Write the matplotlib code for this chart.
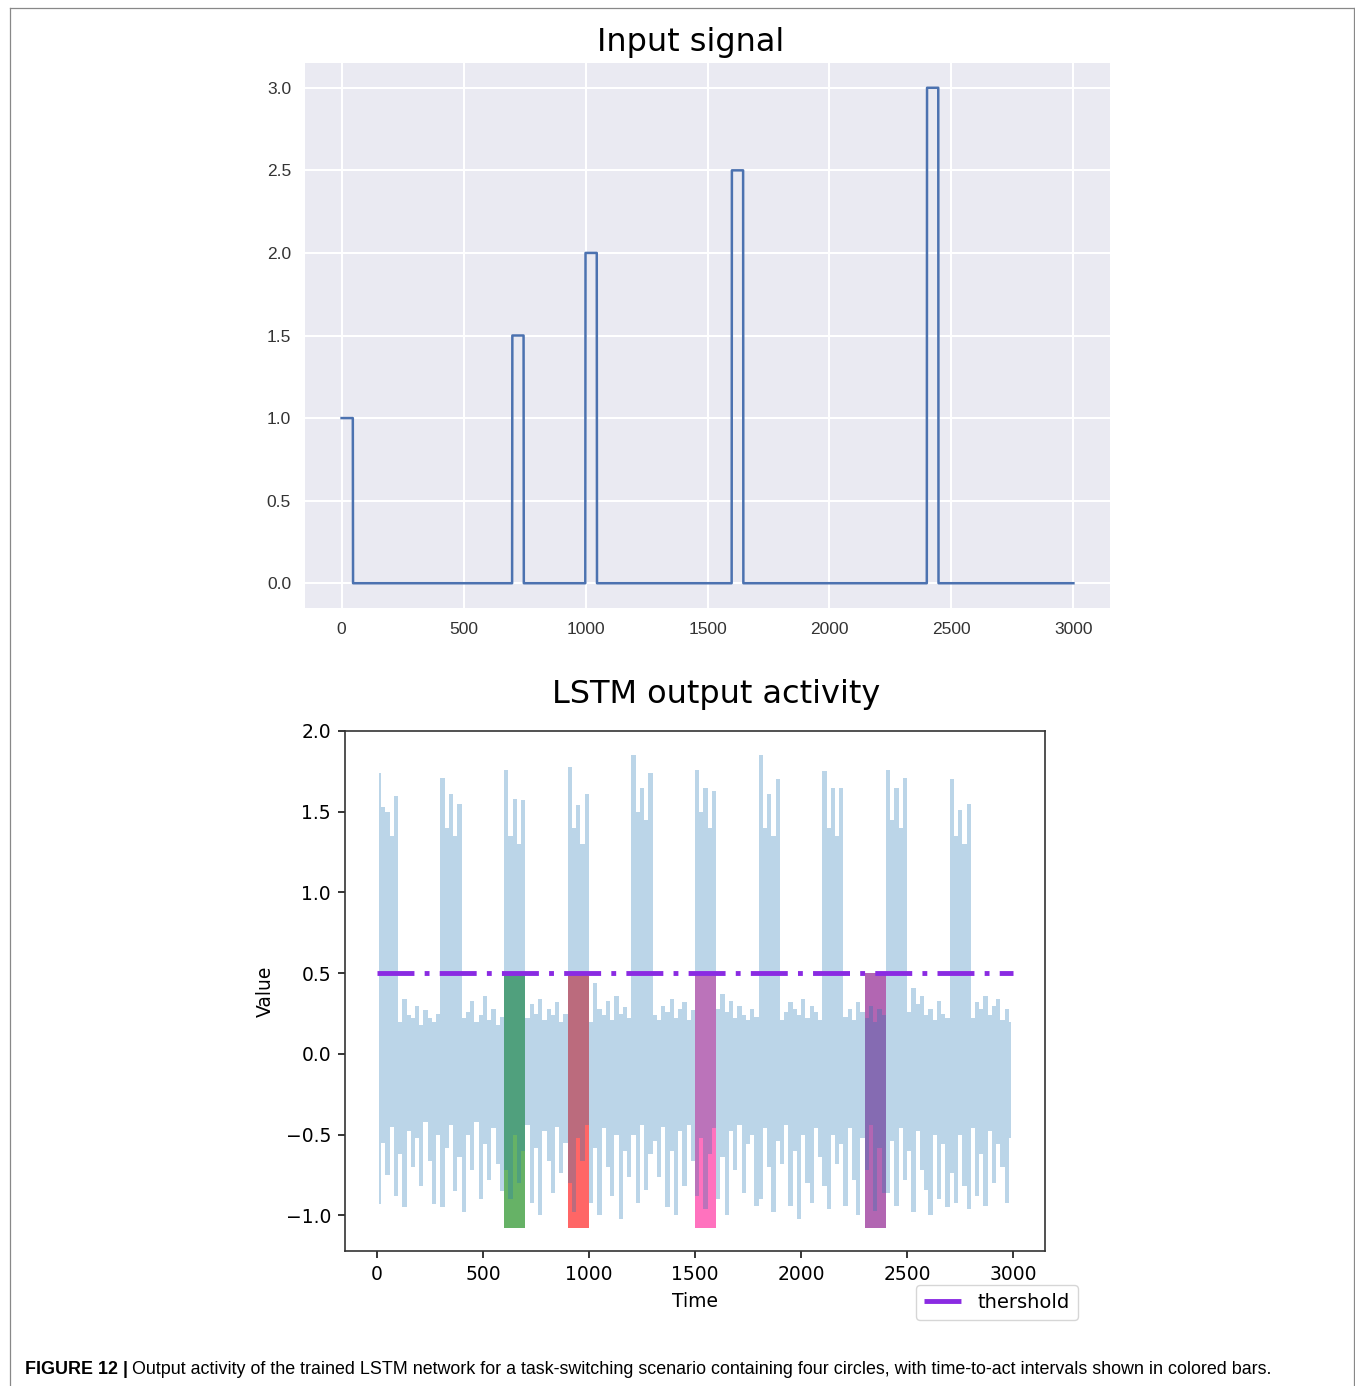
import numpy as np
import matplotlib.pyplot as plt
from matplotlib.lines import Line2D

# input signal: pulse onsets, levels
pulse_start = [0, 700, 1000, 1600, 2400]
pulse_level = [1.0, 1.5, 2.0, 2.5, 3.0]
pulse_len = 47
t_end = 3000

# LSTM output, upper / lower envelope read per 20-step bin (one row = 300 steps)
bin_step = 20
out_hi = [
    1.74, 1.53, 1.50, 1.35, 1.60, 0.20, 0.34, 0.24, 0.22, 0.30, 0.18, 0.27, 0.22, 0.20, 0.25,
    1.71, 1.40, 1.61, 1.35, 1.55, 0.22, 0.26, 0.33, 0.20, 0.24, 0.36, 0.21, 0.28, 0.18, 0.23,
    1.76, 1.35, 1.58, 1.30, 1.57, 0.22, 0.31, 0.25, 0.34, 0.21, 0.28, 0.24, 0.32, 0.20, 0.25,
    1.78, 1.40, 1.54, 1.30, 1.61, 0.20, 0.44, 0.28, 0.24, 0.33, 0.21, 0.36, 0.25, 0.29, 0.22,
    1.85, 1.50, 1.65, 1.45, 1.74, 0.24, 0.21, 0.30, 0.26, 0.34, 0.22, 0.28, 0.32, 0.21, 0.27,
    1.76, 1.50, 1.65, 1.40, 1.63, 0.28, 0.37, 0.26, 0.33, 0.22, 0.30, 0.24, 0.21, 0.28, 0.23,
    1.85, 1.40, 1.61, 1.35, 1.70, 0.21, 0.26, 0.32, 0.28, 0.24, 0.34, 0.22, 0.30, 0.26, 0.21,
    1.75, 1.40, 1.65, 1.35, 1.65, 0.23, 0.28, 0.21, 0.32, 0.26, 0.22, 0.30, 0.20, 0.28, 0.24,
    1.76, 1.45, 1.65, 1.40, 1.71, 0.26, 0.41, 0.31, 0.36, 0.24, 0.28, 0.21, 0.33, 0.25, 0.22,
    1.70, 1.35, 1.51, 1.30, 1.55, 0.22, 0.32, 0.28, 0.36, 0.24, 0.30, 0.34, 0.21, 0.28, 0.20,
]
out_lo = [
    -0.93, -0.55, -0.75, -0.45, -0.88, -0.62, -0.95, -0.48, -0.70, -0.52, -0.82, -0.42, -0.66, -0.93, -0.50,
    -0.95, -0.58, -0.44, -0.85, -0.64, -0.98, -0.50, -0.72, -0.42, -0.90, -0.56, -0.78, -0.46, -0.68, -0.85,
    -0.72, -0.90, -0.50, -0.80, -0.60, -0.44, -0.92, -0.58, -1.00, -0.48, -0.66, -0.86, -0.45, -0.74, -0.55,
    -0.80, -0.98, -0.52, -0.66, -0.44, -0.92, -0.58, -1.00, -0.46, -0.70, -0.88, -0.50, -1.02, -0.60, -0.76,
    -0.50, -0.92, -0.44, -0.84, -0.62, -0.54, -0.76, -0.45, -0.95, -0.60, -1.00, -0.48, -0.82, -0.44, -0.66,
    -0.88, -0.52, -0.96, -0.62, -0.46, -0.90, -0.64, -1.00, -0.48, -0.72, -0.44, -0.86, -0.56, -0.50, -0.94,
    -0.90, -0.46, -0.70, -0.98, -0.54, -0.68, -0.44, -0.94, -0.60, -1.02, -0.50, -0.80, -0.92, -0.46, -0.64,
    -0.82, -0.96, -0.50, -0.68, -0.56, -0.94, -0.46, -0.78, -1.00, -0.52, -0.72, -0.44, -0.97, -0.58, -0.86,
    -0.86, -0.54, -0.94, -0.46, -0.78, -0.60, -0.98, -0.48, -0.72, -0.84, -1.00, -0.50, -0.90, -0.56, -0.95,
    -0.74, -0.92, -0.50, -0.82, -0.96, -0.46, -0.88, -0.62, -0.94, -0.48, -0.80, -0.56, -0.70, -0.92, -0.52,
]

threshold = 0.5
bar_start = [600, 900, 1500, 2300]
bar_len = 100
bar_bottom = -1.08
bar_colors = ['green', 'red', 'deeppink', 'purple']

fig = plt.figure(figsize=(13.55, 13.86), dpi=100)
W, H = 1355.0, 1386.0

# ---- top: input signal (seaborn darkgrid look)
ax1 = fig.add_axes([305 / W, 1 - 608 / H, 805 / W, 545 / H])
ax1.set_facecolor('#eaeaf2')
for sp in ax1.spines.values():
    sp.set_visible(False)
ax1.grid(True, color='white', lw=1.5)
ax1.set_axisbelow(True)
t_in = np.arange(t_end + 1)
sig_in = np.zeros(t_end + 1)
for s, v in zip(pulse_start, pulse_level):
    sig_in[s:s + pulse_len] = v
ax1.plot(t_in, sig_in, color='#4c72b0', lw=1.8)
ax1.set_xlim(-150, 3150)
ax1.set_ylim(-0.15, 3.15)
ax1.set_xticks(np.arange(0, 3001, 500))
ax1.set_yticks(np.arange(0, 3.01, 0.5))
ax1.tick_params(length=0, labelsize=12.5, labelcolor='#333333', pad=10)
for lab in ax1.get_xticklabels() + ax1.get_yticklabels():
    lab.set_family('Liberation Sans')
fig.text(691 / W, 1 - 42 / H, 'Input signal', ha='center', va='center', fontsize=23)

# ---- bottom: LSTM output
ax2 = fig.add_axes([345 / W, 1 - 1251 / H, 700 / W, 520 / H])
for s, c in zip(bar_start, bar_colors):
    ax2.bar(s, threshold - bar_bottom, bottom=bar_bottom, width=bar_len, align='edge',
            color=c, alpha=0.6, lw=0)
t_out = np.arange(len(out_hi)) * bin_step + bin_step / 2
ax2.fill_between(t_out, out_lo, out_hi, step='mid', color='C0', alpha=0.3, lw=0)
ax2.plot([0, t_end], [threshold, threshold], color='#8a2be2', lw=3.5,
         dashes=(7.6, 2.1, 1.0, 2.1), label='thershold')
ax2.set_xlim(-150, 3150)
ax2.set_ylim(-1.22, 2.0)
ax2.set_xticks(np.arange(0, 3001, 500))
ax2.set_yticks(np.arange(-1.0, 2.01, 0.5))
ax2.tick_params(labelsize=13.5, width=1.1, length=5, pad=5)
for sp in ax2.spines.values():
    sp.set_linewidth(1.2)
    sp.set_color('#333333')
ax2.set_xlabel('Time', fontsize=13.5, labelpad=6)
ax2.set_ylabel('Value', fontsize=13.5, labelpad=8)
ax2.legend(loc='lower right', bbox_to_anchor=(1078 / W, 1 - 1320 / H),
           bbox_transform=fig.transFigure, fontsize=14, framealpha=0.8,
           borderaxespad=0, fancybox=True)
fig.text(716 / W, 1 - 695 / H, 'LSTM output activity', ha='center', va='center', fontsize=23)

# ---- frame and caption
for xs, ys in [([10, 10], [8, H]), ([10, 1354], [8, 8]), ([1354, 1354], [8, H])]:
    fig.add_artist(Line2D([x / W for x in xs], [1 - y / H for y in ys],
                          transform=fig.transFigure, color='#888888', lw=0.9))
cy = 1 - 1370 / H
t1 = fig.text(25 / W, cy, 'FIGURE 12 |', fontsize=12.9, weight='bold',
              family='Liberation Sans', va='center')
fig.canvas.draw()
bb = t1.get_window_extent(fig.canvas.get_renderer())
fig.text(bb.x1 / W + 4 / W, cy,
         'Output activity of the trained LSTM network for a task-switching scenario containing four circles, '
         'with time-to-act intervals shown in colored bars.',
         fontsize=12.9, family='Liberation Sans', va='center')

fig.savefig('out.png', dpi=100)
